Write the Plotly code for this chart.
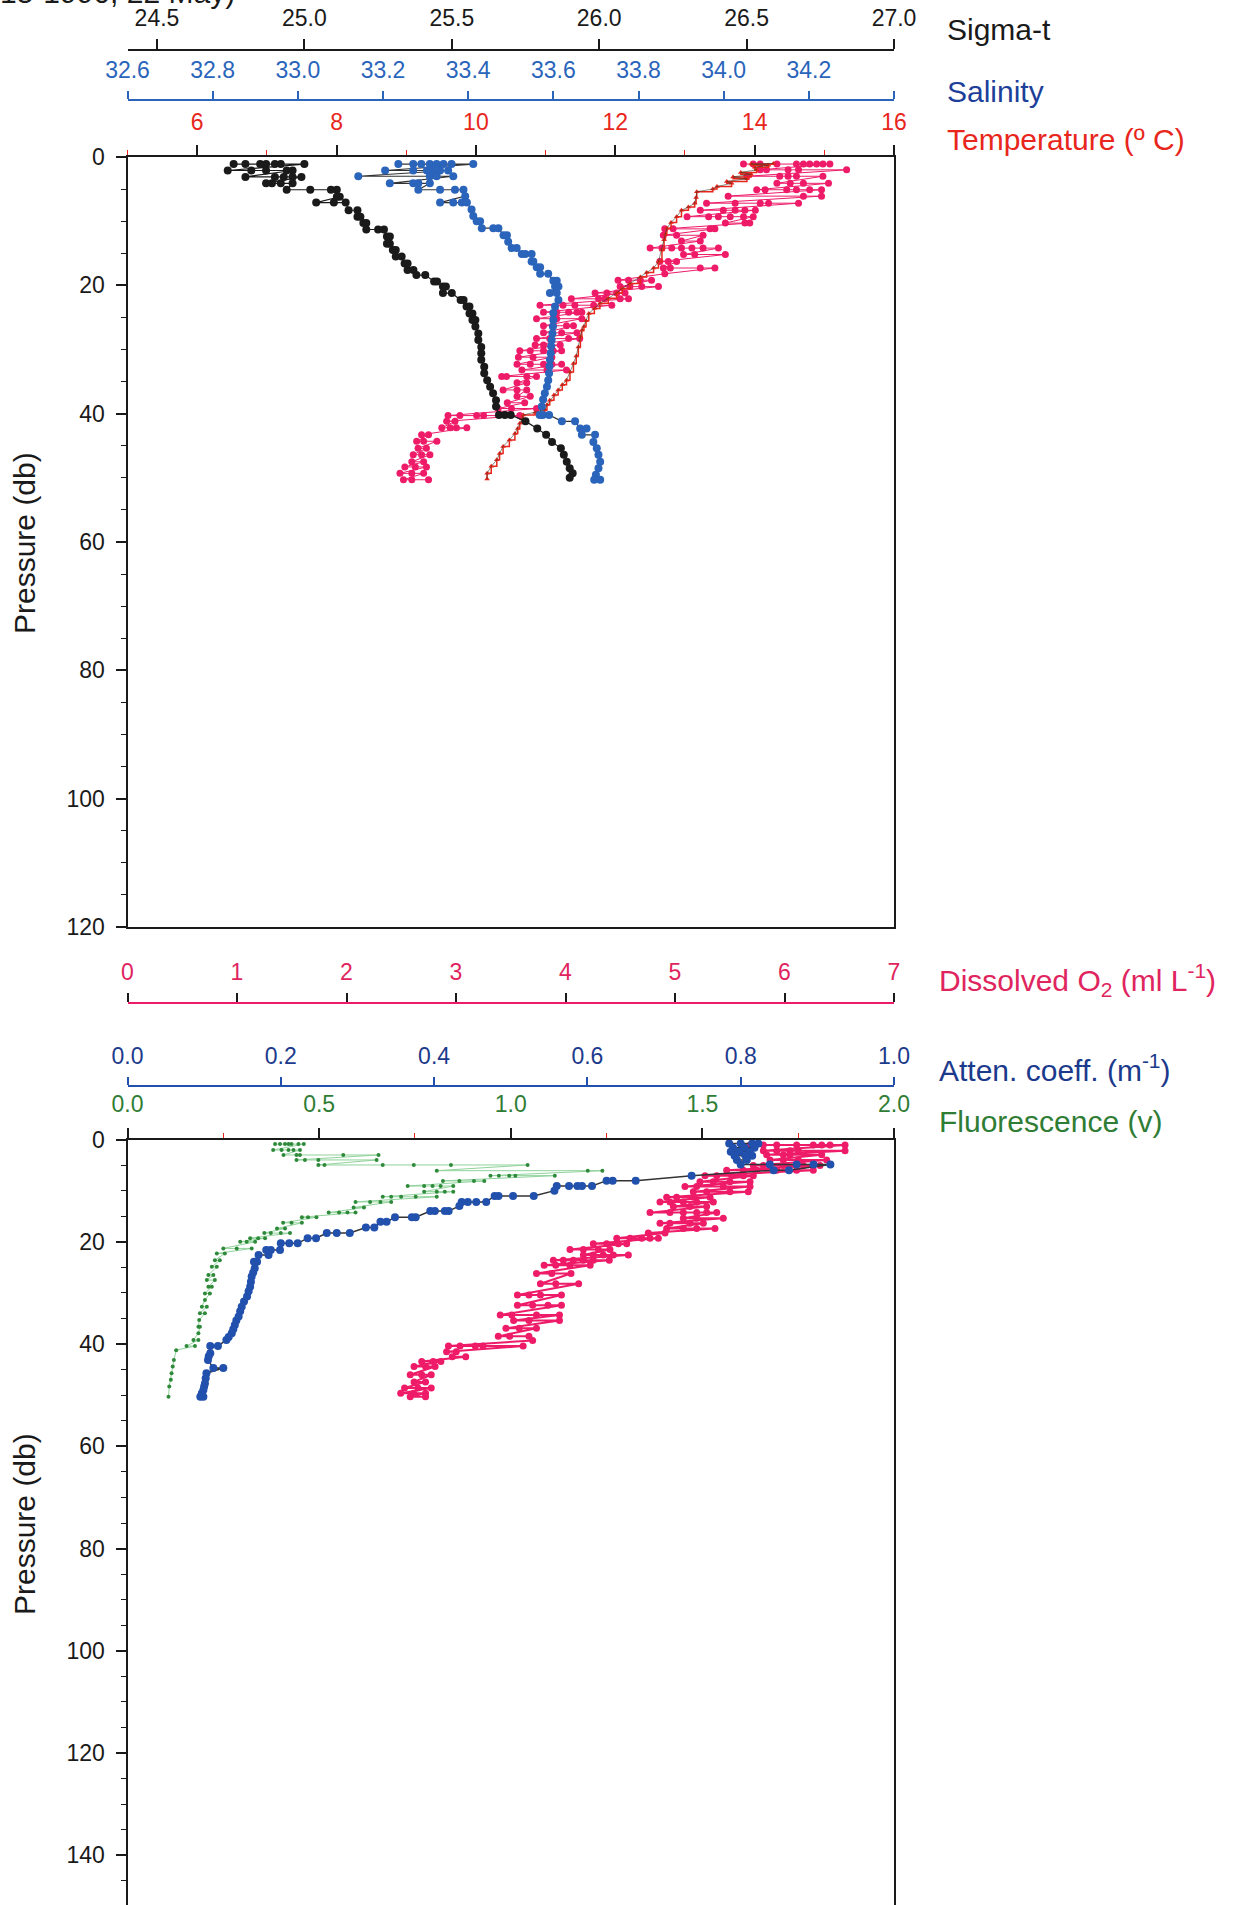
import plotly.graph_objects as go

# ---- page geometry (px) ----
W, H = 1252, 1905
X_L, X_R = 127.5, 894
TOP_Y0, TOP_Y1 = 157, 927          # top panel: 0 db .. 120 db
BOT_Y0 = 1139.5                    # bottom panel: 0 db, runs off the page
BOT_PMAX = 149.7

FONT = 'Liberation Sans, Arial, sans-serif'
TICK_SIZE = 23
TITLE_SIZE = 30

C_BLACK = '#1a1a1a'
C_SAL = '#2a64bb'
C_SAL_TXT = '#1d3f9a'
C_TEMP = '#e8261c'
C_PINK = '#ee1b68'
C_O2_TXT = '#e0245e'
C_ATT = '#2150ad'
C_ATT_TXT = '#1c3a8c'
C_FLU = '#2e8a3a'
C_FLU_LINE = '#8fd29a'
C_FLU_TXT = '#2f7d34'

# ---- top panel data ----
sigma_p = [1.1, 2.1, 3.1, 4.1, 5.1, 6.2, 7.1, 8.3, 9.3, 10.3, 11.3, 12.4, 13.5, 14.5,
           15.5, 16.6, 17.6, 18.4, 19.4, 20.2, 21.2, 22.3, 23.3, 24.4, 25.4, 26.4,
           27.5, 28.5, 29.6, 30.6, 31.6, 32.7, 33.7, 34.8, 35.8, 36.8, 37.9, 38.9,
           40.2, 41.2, 42.3, 43.3, 44.4, 45.4, 46.4, 47.5, 48.5, 49.3, 50.0]
sigma_v = [[24.76, 24.80, 24.85, 24.87, 24.90, 24.92, 25.00],
           [24.74, 24.82, 24.87, 24.94, 24.96],
           [24.80, 24.90, 24.93, 24.96, 24.99],
           [24.87, 24.89, 24.92, 24.96],
           [24.94, 25.02, 25.09, 25.11],
           [25.11, 25.12],
           [25.04, 25.10, 25.14],
           [25.15, 25.18],
           [25.18, 25.19],
           [25.20, 25.21],
           [25.21, 25.25, 25.27],
           [25.28, 25.29],
           [25.28, 25.29],
           [25.30, 25.31],
           [25.31, 25.33],
           [25.34, 25.35],
           [25.35, 25.37],
           [25.38, 25.41],
           [25.44, 25.45],
           [25.47, 25.48],
           [25.47, 25.50],
           [25.53, 25.54],
           [25.55, 25.56],
           [25.56, 25.57],
           [25.57, 25.58],
           [25.58], [25.59], [25.59], [25.60], [25.60], [25.60], [25.61], [25.61],
           [25.62], [25.63], [25.64], [25.65], [25.65],
           [25.66, 25.68, 25.70],
           [25.75], [25.79], [25.82], [25.84], [25.87], [25.88], [25.89], [25.90],
           [25.91], [25.90]]

sal_p = [1.1, 2.1, 3.0, 4.1, 5.1, 6.1, 7.1, 8.2, 9.2, 10.0, 11.1, 12.2, 13.2, 14.2,
         15.1, 16.3, 17.2, 18.2, 19.3, 20.2, 21.2, 22.3, 23.3, 24.3, 25.4, 26.4,
         27.5, 28.5, 29.5, 30.6, 31.6, 32.6, 33.7, 34.8, 35.8, 36.8, 37.8, 38.9,
         40.2, 41.2, 42.3, 43.3, 44.4, 45.4, 46.4, 47.5, 48.5, 49.5, 50.3]
sal_v = [[33.236, 33.271, 33.29, 33.31, 33.326, 33.342, 33.361, 33.412],
         [33.205, 33.271, 33.303, 33.318, 33.334, 33.353],
         [33.142, 33.310, 33.326, 33.365],
         [33.216, 33.271, 33.283, 33.310],
         [33.283, 33.334, 33.369, 33.389],
         [33.393],
         [33.334, 33.365, 33.385, 33.397],
         [33.408], [33.412],
         [33.420, 33.428],
         [33.432, 33.459, 33.471],
         [33.483, 33.491],
         [33.494],
         [33.502, 33.514],
         [33.526, 33.534, 33.549],
         [33.549, 33.553],
         [33.561, 33.569],
         [33.569, 33.588],
         [33.600, 33.608],
         [33.604, 33.612],
         [33.592, 33.608],
         [33.612], [33.604], [33.600], [33.600], [33.599], [33.598], [33.596],
         [33.595], [33.594], [33.592], [33.591], [33.590], [33.588], [33.585],
         [33.580], [33.576], [33.573],
         [33.568, 33.575, 33.590],
         [33.620, 33.651],
         [33.663, 33.678],
         [33.667, 33.698],
         [33.694], [33.702], [33.706], [33.710], [33.706], [33.700],
         [33.696, 33.710]]

# temperature, CTD trace (red step line)
temp_p = [1.0, 1.1, 1.3, 1.6, 2.0, 2.4, 2.7, 3.1, 3.4, 3.8, 4.1, 4.6, 5.0, 5.4, 6.3,
          7.2, 7.8, 8.3, 9.3, 10.2, 11.1, 12.0, 12.9, 14.5, 16.3, 17.3, 18.0, 18.7,
          19.7, 20.5, 21.2, 22.0, 22.8, 23.6, 24.4, 25.5, 26.4, 27.0, 28.0, 29.6,
          31.0, 32.2, 33.5, 34.8, 35.5, 36.3, 37.1, 37.9, 38.6, 39.4, 39.8, 40.2,
          40.8, 41.5, 42.3, 43.1, 44.1, 45.1, 46.2, 47.2, 48.2, 49.3, 50.2]
temp_v = [14.27, 13.95, 14.20, 14.00, 14.03, 13.80, 13.95, 13.69, 13.89, 13.60, 13.67,
          13.46, 13.40, 13.17, 13.16, 13.14, 13.05, 12.95, 12.88, 12.80, 12.74, 12.72,
          12.70, 12.67, 12.62, 12.55, 12.45, 12.36, 12.21, 12.10, 12.02, 11.90, 11.78,
          11.70, 11.62, 11.58, 11.55, 11.52, 11.50, 11.47, 11.44, 11.40, 11.35, 11.30,
          11.24, 11.18, 11.12, 11.06, 11.02, 10.99, 10.85, 10.68, 10.66, 10.63, 10.60,
          10.56, 10.48, 10.39, 10.34, 10.30, 10.22, 10.16, 10.16]

# temperature, second (pink) record
tpk_p = [1.1, 2.0, 3.0, 4.1, 5.1, 6.1, 7.2, 8.3, 9.3, 10.3, 11.2, 12.2, 13.1, 14.2,
         15.2, 16.3, 17.3, 18.2, 19.2, 20.2, 21.2, 22.1, 23.1, 24.2, 25.2, 26.3,
         27.4, 28.3, 29.3, 30.2, 31.2, 32.3, 33.2, 34.2, 35.2, 36.3, 37.3, 38.3,
         39.2, 40.3, 41.2, 42.2, 43.3, 44.3, 45.4, 46.4, 47.5, 48.3, 49.3, 50.3]
tpk_v = [[13.84, 13.98, 14.08, 14.32, 14.60, 14.70, 14.79, 14.89, 14.98, 15.08],
         [14.08, 14.17, 14.48, 14.63, 15.32],
         [13.89, 14.36, 14.48, 14.60, 14.98],
         [14.32, 14.51, 14.70, 15.06],
         [14.03, 14.15, 14.46, 14.60, 14.79, 14.96],
         [13.62, 14.70, 14.96],
         [13.31, 13.72, 14.08, 14.20, 14.63],
         [13.22, 13.55, 13.72, 13.86, 14.01],
         [13.03, 13.34, 13.48, 13.65, 13.84, 13.98],
         [13.58, 13.86, 13.93],
         [12.71, 12.83, 13.36, 13.43],
         [12.69, 12.88, 13.26],
         [12.95, 13.22],
         [12.50, 12.67, 12.81, 12.95, 13.10, 13.26, 13.48],
         [12.98, 13.14, 13.58],
         [12.64, 12.76, 12.88],
         [12.69, 12.79, 13.22, 13.43],
         [12.71],
         [12.04, 12.19, 12.36, 12.52],
         [12.07, 12.21, 12.38, 12.62],
         [11.71, 11.88, 12.02, 12.14],
         [11.37, 11.76, 11.85, 12.07, 12.19],
         [10.92, 11.25, 11.42, 11.69, 11.95],
         [10.97, 11.16, 11.33, 11.45, 11.52],
         [10.87, 11.16, 11.52],
         [10.97, 11.11, 11.30, 11.40],
         [10.97, 11.23, 11.45],
         [10.87, 11.06, 11.33, 11.49],
         [10.85, 10.97, 11.21],
         [10.63, 10.78, 10.97, 11.11, 11.23],
         [10.61, 10.82, 11.09],
         [10.59, 10.78, 10.97, 11.09, 11.23],
         [10.66, 11.02, 11.30],
         [10.37, 10.44, 10.73, 10.87],
         [10.59, 10.73],
         [10.39, 10.59, 10.73],
         [10.59, 10.78],
         [10.45, 10.70],
         [10.32, 10.51, 10.87],
         [9.60, 9.77, 10.01, 10.11, 10.63],
         [9.58, 9.70],
         [9.51, 9.63, 9.72, 9.87],
         [9.22, 9.32],
         [9.15, 9.25, 9.44],
         [9.17, 9.29],
         [9.10, 9.22, 9.34],
         [9.08, 9.25],
         [8.98, 9.13, 9.29],
         [8.91, 9.08, 9.25],
         [8.96, 9.08, 9.32]]

# ---- bottom panel data ----
o2_p = [1.1, 2.2, 3.0, 4.0, 5.1, 6.0, 7.1, 8.25, 9.2, 10.2, 11.3, 12.2, 13.1, 14.3,
        15.4, 16.4, 17.4, 18.3, 19.3, 20.4, 21.5, 22.6, 23.6, 24.6, 26.2, 28.2,
        30.4, 32.4, 34.3, 35.4, 36.9, 38.5, 39.3, 40.4, 41.5, 42.5, 43.4, 44.4,
        46.0, 47.4, 48.6, 49.6, 50.3]
o2_v = [[5.685, 5.807, 5.929, 6.111, 6.263, 6.340, 6.416, 6.553],
        [5.807, 5.929, 6.050, 6.126, 6.553],
        [5.837, 5.989, 6.050, 6.340],
        [5.868, 5.989, 6.126, 6.385],
        [5.715, 5.807, 5.989, 6.172, 6.324],
        [5.472, 5.624, 5.746, 5.929, 6.111, 6.263],
        [5.274, 5.381, 5.518, 5.624, 5.715],
        [5.228, 5.350, 5.502, 5.685],
        [5.091, 5.198, 5.441, 5.685],
        [5.167, 5.289, 5.502, 5.669],
        [4.924, 5.015, 5.167, 5.320],
        [4.863, 4.954, 5.076, 5.198, 5.350],
        [4.985, 5.137, 5.289],
        [4.772, 4.954, 5.076, 5.198, 5.289, 5.381],
        [5.076, 5.198, 5.441],
        [4.863, 4.954, 5.137, 5.259],
        [4.924, 5.076, 5.198, 5.365],
        [4.756, 4.909],
        [4.468, 4.589, 4.696, 4.772, 4.848],
        [4.254, 4.376, 4.482, 4.559],
        [4.041, 4.163, 4.300, 4.406],
        [4.163, 4.254, 4.345, 4.437, 4.574],
        [3.889, 3.980, 4.071, 4.163, 4.254, 4.400],
        [3.805, 3.911, 4.040, 4.225],
        [3.735, 3.875, 4.050],
        [3.771, 3.911, 4.120],
        [3.561, 3.666, 3.771, 3.963],
        [3.561, 3.700, 3.840, 3.963],
        [3.404, 3.509, 3.735, 3.945],
        [3.526, 3.666, 3.945],
        [3.456, 3.578, 3.735],
        [3.386, 3.490, 3.666],
        [3.700],
        [2.931, 3.037, 3.176, 3.246, 3.613],
        [2.914, 3.002],
        [2.966, 3.089],
        [2.687, 2.792, 2.862],
        [2.617, 2.722, 2.809],
        [2.582, 2.687, 2.774],
        [2.617, 2.722],
        [2.530, 2.652, 2.774],
        [2.495, 2.614, 2.722],
        [2.582, 2.722]]

att_p = [0.8, 1.6, 2.4, 3.2, 4.0, 4.9, 6.0, 7.1, 8.05, 9.1, 10.0, 11.05, 12.2, 13.0,
         14.0, 15.2, 16.1, 17.2, 18.3, 19.3, 20.3, 21.6, 22.6, 23.9, 25.2, 26.0,
         26.8, 27.8, 28.8, 29.7, 30.7, 31.7, 32.7, 33.6, 34.6, 35.4, 36.3, 37.1,
         37.9, 38.6, 39.2, 40.4, 41.8, 42.4, 43.1, 44.7, 45.7, 46.7, 47.7, 48.3,
         49.0, 49.6, 50.3]
att_v = [[0.785, 0.800, 0.815, 0.823],
         [0.818, 0.805, 0.790],
         [0.787, 0.798, 0.812],
         [0.815, 0.806, 0.792],
         [0.795, 0.808],
         [0.800, 0.838, 0.873, 0.895, 0.917],
         [0.863, 0.843],
         [0.736],
         [0.663, 0.633, 0.625],
         [0.606, 0.593, 0.587, 0.576, 0.560],
         [0.557],
         [0.530, 0.503, 0.484, 0.479],
         [0.468, 0.455, 0.444, 0.436],
         [0.433],
         [0.419, 0.414, 0.401, 0.395],
         [0.376, 0.371, 0.349],
         [0.338, 0.330],
         [0.322, 0.311],
         [0.290, 0.273, 0.260],
         [0.246, 0.235],
         [0.222, 0.211, 0.200],
         [0.199, 0.187, 0.181],
         [0.184, 0.171],
         [0.169, 0.165],
         [0.166], [0.164], [0.162], [0.161], [0.160], [0.158], [0.156], [0.152],
         [0.149], [0.147], [0.145], [0.142], [0.140], [0.138], [0.136], [0.132],
         [0.129],
         [0.118, 0.108],
         [0.108], [0.106], [0.105],
         [0.112, 0.125],
         [0.103], [0.102], [0.101], [0.100], [0.099], [0.097],
         [0.095, 0.099]]

flu_p = [0.9, 2.05, 3.03, 4.0, 4.98, 6.1, 7.07, 8.1, 9.1, 10.2, 11.2, 12.2, 13.3,
         14.3, 15.2, 16.3, 17.4, 18.3, 19.3, 20.0, 21.3, 22.3, 23.6, 24.9, 26.5,
         27.5, 28.8, 30.1, 31.4, 32.7, 34.0, 35.3, 36.6, 37.9, 39.2, 40.4, 41.2,
         43.1, 44.4, 45.7, 47.0, 48.3, 50.3]
flu_v = [[0.385, 0.398, 0.411, 0.420, 0.428, 0.446, 0.460],
         [0.380, 0.402, 0.420, 0.433, 0.450],
         [0.407, 0.441, 0.450, 0.563, 0.655],
         [0.441, 0.463, 0.498, 0.650],
         [0.498, 0.514, 0.666, 0.747, 0.844, 1.044],
         [0.807, 1.201, 1.239],
         [0.947, 0.969, 0.996, 1.012, 1.115],
         [0.823, 0.866, 0.904, 0.931],
         [0.731, 0.774, 0.796, 0.817, 0.850],
         [0.774, 0.807, 0.828, 0.850],
         [0.666, 0.688, 0.714, 0.752, 0.807],
         [0.595, 0.633, 0.660, 0.688],
         [0.590, 0.617],
         [0.525, 0.552, 0.574, 0.595],
         [0.455, 0.471, 0.493],
         [0.406, 0.428, 0.455],
         [0.390, 0.411],
         [0.357, 0.374, 0.400, 0.424],
         [0.320, 0.341, 0.359],
         [0.294, 0.311, 0.333],
         [0.250, 0.285, 0.324],
         [0.233, 0.254],
         [0.228, 0.241],
         [0.220, 0.233],
         [0.211, 0.224],
         [0.207, 0.228],
         [0.211, 0.220],
         [0.202, 0.215],
         [0.202],
         [0.194, 0.207],
         [0.189, 0.202],
         [0.187],
         [0.185, 0.189],
         [0.185],
         [0.172, 0.185],
         [0.154, 0.176],
         [0.127], [0.121], [0.118], [0.115], [0.113], [0.109], [0.107]]


def flatten(depths, rows):
    xs, ys = [], []
    for p, vals in zip(depths, rows):
        for v in vals:
            xs.append(v)
            ys.append(p)
    return xs, ys


def fx(px):
    return px / W


def fy(py):
    return 1 - py / H


fig = go.Figure()

# top panel
x, y = flatten(tpk_p, tpk_v)
fig.add_trace(go.Scatter(x=x, y=y, xaxis='x', yaxis='y', mode='lines+markers',
                         line=dict(color=C_PINK, width=1),
                         marker=dict(color=C_PINK, size=7)))
fig.add_trace(go.Scatter(x=temp_v, y=temp_p, xaxis='x', yaxis='y', mode='lines+markers',
                         line=dict(color=C_TEMP, width=1.5, shape='vh'),
                         marker=dict(color=C_TEMP, size=5, symbol='triangle-up')))
fig.add_trace(go.Scatter(x=temp_v, y=temp_p, xaxis='x', yaxis='y', mode='lines',
                         line=dict(color='#2b3d2b', width=0.8), opacity=0.7))
x, y = flatten(sigma_p, sigma_v)
fig.add_trace(go.Scatter(x=x, y=y, xaxis='x2', yaxis='y', mode='lines+markers',
                         line=dict(color=C_BLACK, width=1.2),
                         marker=dict(color=C_BLACK, size=8)))
x, y = flatten(sal_p, sal_v)
fig.add_trace(go.Scatter(x=x, y=y, xaxis='x3', yaxis='y', mode='lines+markers',
                         line=dict(color='#333333', width=1.2),
                         marker=dict(color=C_SAL, size=8)))

# bottom panel
x, y = flatten(flu_p, flu_v)
fig.add_trace(go.Scatter(x=x, y=y, xaxis='x4', yaxis='y2', mode='lines+markers',
                         line=dict(color=C_FLU_LINE, width=1),
                         marker=dict(color=C_FLU, size=4)))
x, y = flatten(o2_p, o2_v)
fig.add_trace(go.Scatter(x=x, y=y, xaxis='x5', yaxis='y2', mode='lines+markers',
                         line=dict(color=C_PINK, width=2),
                         marker=dict(color=C_PINK, size=7)))
x, y = flatten(att_p, att_v)
fig.add_trace(go.Scatter(x=x, y=y, xaxis='x6', yaxis='y2', mode='lines+markers',
                         line=dict(color='#333333', width=1.5),
                         marker=dict(color=C_ATT, size=8)))

dom_x = [fx(X_L), fx(X_R)]
tick_font = lambda c: dict(family=FONT, size=TICK_SIZE, color=c)


def yaxis_cfg(domain, rng, vals):
    return dict(domain=domain, range=rng, showline=True, linecolor=C_BLACK, linewidth=2,
                mirror=True, ticks='outside', ticklen=10, tickwidth=1.5, tickcolor=C_BLACK,
                tickvals=vals, ticktext=[str(v) for v in vals], tickfont=tick_font(C_BLACK),
                minor=dict(dtick=5, tick0=0, ticks='outside', ticklen=5, tickwidth=1.2,
                           tickcolor=C_BLACK),
                showgrid=False, zeroline=False, automargin=False, ticklabelstandoff=6)


def free_axis(over, pos, rng, vals, labels, lcolor, tcolor, fcolor, ticklen=9):
    return dict(overlaying=over, anchor='free', position=pos, side='top', range=rng,
                showline=True, linecolor=lcolor, linewidth=1.5, ticks='outside',
                ticklen=ticklen, tickwidth=1.5, tickcolor=tcolor, tickvals=vals,
                ticktext=labels, tickfont=tick_font(fcolor), showgrid=False,
                zeroline=False, automargin=False, ticklabelstandoff=4)


temp_ticks = [6, 8, 10, 12, 14, 16]
sig_ticks = [24.5, 25.0, 25.5, 26.0, 26.5, 27.0]
sal_ticks = [32.6, 32.8, 33.0, 33.2, 33.4, 33.6, 33.8, 34.0, 34.2, 34.4]
flu_ticks = [0.0, 0.5, 1.0, 1.5, 2.0]
o2_ticks = [0, 1, 2, 3, 4, 5, 6, 7]
att_ticks = [0.0, 0.2, 0.4, 0.6, 0.8, 1.0]

fig.update_layout(
    width=W, height=H, margin=dict(l=0, r=0, t=0, b=0, pad=0),
    template='none', showlegend=False,
    paper_bgcolor='white', plot_bgcolor='white',
    font=dict(family=FONT, color=C_BLACK),
    xaxis=dict(domain=dom_x, anchor='y', side='top', range=[5, 16], showline=True,
               linecolor=C_BLACK, linewidth=2, mirror=True, ticks='outside', ticklen=10,
               tickwidth=1.5, tickcolor=C_BLACK, tickvals=temp_ticks,
               ticktext=[str(v) for v in temp_ticks], tickfont=tick_font(C_TEMP),
               minor=dict(tickvals=[5, 7, 9, 11, 13, 15], ticks='outside', ticklen=5,
                          tickwidth=1.2, tickcolor=C_TEMP),
               showgrid=False, zeroline=False, automargin=False, ticklabelstandoff=6),
    yaxis=yaxis_cfg([fy(TOP_Y1), fy(TOP_Y0)], [120, 0], list(range(0, 121, 20))),
    xaxis2=free_axis('x', fy(50), [24.4, 27.0], sig_ticks, [f'{v:.1f}' for v in sig_ticks],
                     C_BLACK, C_BLACK, C_BLACK, ticklen=10),
    xaxis3=free_axis('x', fy(99.5), [32.6, 34.4], sal_ticks,
                     [f'{v:.1f}' for v in sal_ticks[:-1]] + [' '], C_SAL, C_SAL, C_SAL, ticklen=8),
    xaxis4=dict(domain=dom_x, anchor='y2', side='top', range=[0, 2], showline=True,
                linecolor=C_BLACK, linewidth=2, mirror=False, ticks='outside', ticklen=10,
                tickwidth=1.5, tickcolor=C_BLACK, tickvals=flu_ticks,
                ticktext=[f'{v:.1f}' for v in flu_ticks], tickfont=tick_font(C_FLU_TXT),
                minor=dict(tickvals=[0.25, 0.75, 1.25, 1.75], ticks='outside', ticklen=5,
                           tickwidth=1.2, tickcolor=C_TEMP),
                showgrid=False, zeroline=False, automargin=False, ticklabelstandoff=6),
    yaxis2=yaxis_cfg([0, fy(BOT_Y0)], [BOT_PMAX, 0], list(range(0, 141, 20))),
    xaxis5=free_axis('x4', fy(1003), [0, 7], o2_ticks, [str(v) for v in o2_ticks],
                     C_PINK, C_BLACK, C_O2_TXT, ticklen=9),
    xaxis6=free_axis('x4', fy(1086), [0, 1], att_ticks, [f'{v:.1f}' for v in att_ticks],
                     C_ATT, C_ATT, C_ATT_TXT, ticklen=8),
)

titles = [
    ('Sigma-t', 945, 30, C_BLACK),
    ('Salinity', 945, 91, C_SAL_TXT),
    ('Temperature (º C)', 945, 139, C_TEMP),
    ('Dissolved O<sub>2</sub> (ml L<sup>-1</sup>)', 937, 980, C_O2_TXT),
    ('Atten. coeff. (m<sup>-1</sup>)', 937, 1068, C_ATT_TXT),
    ('Fluorescence (v)', 937, 1121, C_FLU_TXT),
]
for text, px, py, col in titles:
    fig.add_annotation(text=text, xref='paper', yref='paper', x=fx(px), y=fy(py),
                       xanchor='left', yanchor='middle', showarrow=False,
                       font=dict(family=FONT, size=TITLE_SIZE, color=col))

for py in (543, 1524):
    fig.add_annotation(text='Pressure (db)', xref='paper', yref='paper', x=fx(24), y=fy(py),
                       xanchor='center', yanchor='middle', textangle=-90, showarrow=False,
                       font=dict(family=FONT, size=TITLE_SIZE, color=C_BLACK))

# station caption, cut by the top edge as in the scan
fig.add_annotation(text='15-1990, 22 May)', xref='paper', yref='paper', x=fx(-2), y=fy(-7),
                   xanchor='left', yanchor='middle', showarrow=False,
                   font=dict(family=FONT, size=TITLE_SIZE, color=C_BLACK))

fig.write_html("out.html", config={'displayModeBar': False},
               post_script="document.body.style.margin='0';"
                           "document.documentElement.style.overflow='hidden';")
